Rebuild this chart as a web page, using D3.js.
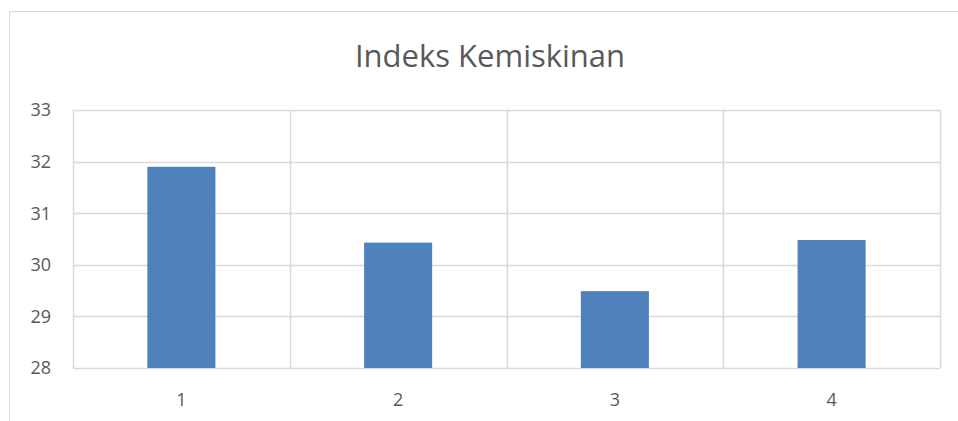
<!DOCTYPE html>
<meta charset="utf-8">
<style>
    body { margin: 0; background: #fff; }
    text { font-family: "Open Sans", sans-serif; fill: #595959; }
</style>
<svg width="958" height="421"></svg>
<script src="https://cdn.jsdelivr.net/npm/d3@7"></script>
<script>
    var categories = ["1", "2", "3", "4"];
    var values = [31.9, 30.43, 29.49, 30.48];
    var yTicks = [28, 29, 30, 31, 32, 33];
    var title = "Indeks Kemiskinan";

    var svg = d3.select("svg"),
        margin = {top: 110, right: 18, bottom: 53, left: 73},
        width = +svg.attr("width") - margin.left - margin.right,
        height = +svg.attr("height") - margin.top - margin.bottom;

    // chart border (runs off the right/bottom edge)
    svg.append("rect")
        .attr("x", 9.5).attr("y", 11.5)
        .attr("width", 1000).attr("height", 500)
        .attr("fill", "none")
        .attr("stroke", "#d9d9d9");

    var x = d3.scaleBand().domain(categories).range([0, width]).paddingInner(0).paddingOuter(0);
    var y = d3.scaleLinear().domain([28, 33]).range([height, 0]);

    var g = svg.append("g").attr("transform", "translate(" + margin.left + "," + margin.top + ")");

    // horizontal gridlines
    g.append("g").selectAll("line")
        .data(yTicks)
        .enter().append("line")
        .attr("x1", 0).attr("x2", width)
        .attr("y1", function (d) { return Math.round(y(d)) + 0.5; })
        .attr("y2", function (d) { return Math.round(y(d)) + 0.5; })
        .attr("stroke", "#d9d9d9")
        .attr("stroke-width", 1.5);

    // vertical gridlines at category boundaries
    var bounds = categories.map(function (c) { return x(c); }).concat([width]);
    g.append("g").selectAll("line")
        .data(bounds)
        .enter().append("line")
        .attr("x1", function (d) { return Math.round(d) + 0.5; })
        .attr("x2", function (d) { return Math.round(d) + 0.5; })
        .attr("y1", 0).attr("y2", height)
        .attr("stroke", "#d9d9d9")
        .attr("stroke-width", 1.5);

    // bars
    var barW = x.bandwidth() * 0.314;
    g.append("g").selectAll("rect")
        .data(values)
        .enter().append("rect")
        .attr("x", function (d, i) { return x(categories[i]) + x.bandwidth() / 2 - barW / 2; })
        .attr("y", function (d) { return y(d); })
        .attr("width", barW)
        .attr("height", function (d) { return y(28) - y(d); })
        .attr("fill", "#4f81bd");

    // y labels
    g.append("g").selectAll("text")
        .data(yTicks)
        .enter().append("text")
        .attr("x", -22)
        .attr("y", function (d) { return y(d); })
        .attr("dy", "0.35em")
        .attr("text-anchor", "end")
        .attr("font-size", 18)
        .text(function (d) { return d; });

    // x labels
    g.append("g").selectAll("text")
        .data(categories)
        .enter().append("text")
        .attr("x", function (d) { return x(d) + x.bandwidth() / 2; })
        .attr("y", height + 32)
        .attr("dy", "0.35em")
        .attr("text-anchor", "middle")
        .attr("font-size", 18)
        .text(function (d) { return d; });

    svg.append("text")
        .attr("x", 490)
        .attr("y", 67)
        .attr("text-anchor", "middle")
        .attr("font-size", 31)
        .text(title);
</script>
